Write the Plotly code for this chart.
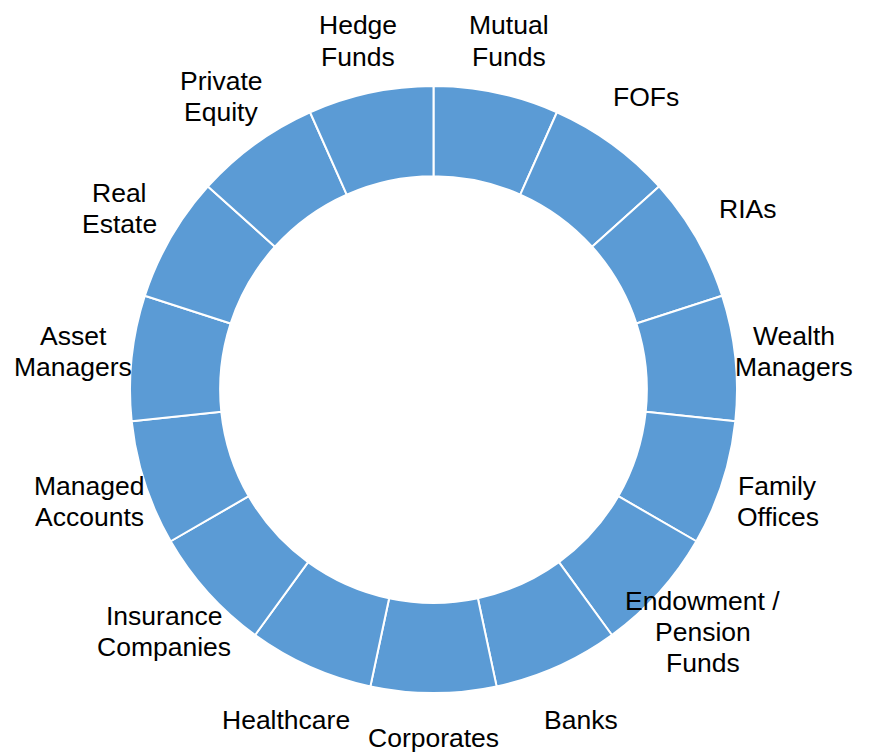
import math
import plotly.graph_objects as go

categories = ["Mutual<br>Funds", "FOFs", "RIAs", "Wealth<br>Managers", "Family<br>Offices",
              "Endowment /<br>Pension<br>Funds", "Banks", "Corporates", "Healthcare",
              "Insurance<br>Companies", "Managed<br>Accounts", "Asset<br>Managers",
              "Real<br>Estate", "Private<br>Equity", "Hedge<br>Funds"]
values = [1] * 15

# page has an 8px body margin, so the figure is drawn slightly smaller
OFF = 8
W, H = 877 - OFF, 755 - OFF
cx, cy = 433.5 - OFF, 389.5 - OFF   # pie centre in figure pixels
R = 303.5
HOLE = 0.703
LABEL_R = 362.0
FONT = 26.5
LINE = 31.0

dom = dict(x=[(cx - R) / W, (cx + R) / W],
           y=[(H - cy - R) / H, (H - cy + R) / H])

fig = go.Figure()
fig.add_trace(go.Pie(
    labels=[c.replace("<br>", " ") for c in categories], values=values,
    sort=False, direction="clockwise", rotation=0,
    hole=HOLE, domain=dom, automargin=False,
    marker=dict(colors=["#5B9BD5"] * len(values), line=dict(color="white", width=2)),
    textinfo="none", hoverinfo="label", showlegend=False,
))

total = sum(values)
acc = 0.0
annotations = []
for lab, v in zip(categories, values):
    mid = (acc + v / 2) / total * 2 * math.pi
    acc += v
    lines = lab.split("<br>")
    n = len(lines)
    hh = n * LINE / 2
    px = cx + LABEL_R * math.sin(mid)
    py = cy - LABEL_R * math.cos(mid)
    py = min(max(py, hh + 2), H - hh - 2)
    for k, ln in enumerate(lines):
        ly = py + (k - (n - 1) / 2) * LINE
        annotations.append(dict(
            x=px / W, y=1 - ly / H, xref="paper", yref="paper",
            text=ln, showarrow=False, xanchor="center", yanchor="middle",
            font=dict(family="Liberation Sans, Arial, sans-serif", size=FONT, color="black"),
        ))

fig.update_layout(width=W, height=H,
                  margin=dict(l=0, r=0, t=0, b=0, pad=0, autoexpand=False),
                  paper_bgcolor="white", plot_bgcolor="white",
                  annotations=annotations)
fig.write_html("out.html")
